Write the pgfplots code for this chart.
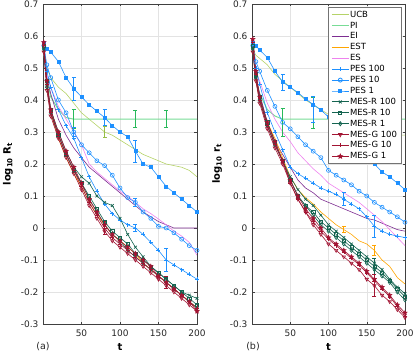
\documentclass[border=0pt]{standalone}
\usepackage{fontspec}
\setmainfont{DejaVu Sans}
\usepackage{pgfplots}
\usepackage{pgfplotstable}
\pgfplotsset{compat=1.18}

\definecolor{cucb}{RGB}{181,211,104}
\definecolor{cucbbar}{RGB}{150,190,70}
\definecolor{cpi}{RGB}{120,220,150}
\definecolor{cpibar}{RGB}{40,185,90}
\definecolor{cei}{RGB}{125,45,145}
\definecolor{cest}{RGB}{255,165,0}
\definecolor{ces}{RGB}{238,130,238}
\definecolor{cpes}{RGB}{30,144,255}
\definecolor{cmesr}{RGB}{20,100,80}
\definecolor{cmesg}{RGB}{162,20,50}

% filled five point star
\pgfdeclareplotmark{fstar}{%
  \pgfpathmoveto{\pgfpointpolar{90}{\pgfplotmarksize}}%
  \pgfpathlineto{\pgfpointpolar{126}{0.45\pgfplotmarksize}}%
  \pgfpathlineto{\pgfpointpolar{162}{\pgfplotmarksize}}%
  \pgfpathlineto{\pgfpointpolar{198}{0.45\pgfplotmarksize}}%
  \pgfpathlineto{\pgfpointpolar{234}{\pgfplotmarksize}}%
  \pgfpathlineto{\pgfpointpolar{270}{0.45\pgfplotmarksize}}%
  \pgfpathlineto{\pgfpointpolar{306}{\pgfplotmarksize}}%
  \pgfpathlineto{\pgfpointpolar{342}{0.45\pgfplotmarksize}}%
  \pgfpathlineto{\pgfpointpolar{18}{\pgfplotmarksize}}%
  \pgfpathlineto{\pgfpointpolar{54}{0.45\pgfplotmarksize}}%
  \pgfpathclose\pgfusepathqfillstroke}

% panel (a): log10 R_t
\pgfplotstableread{
t   ucb   pi    ei     est    es     p100   p10    p1     r100   r10    r1     g100   g10    g1
1   0.55  0.55  0.55   0.56   0.55   0.57   0.57   0.58   0.56   0.57   0.56   0.55   0.57   0.58
5   0.50  0.47  0.47   0.44   0.48   0.49   0.51   0.56   0.45   0.46   0.44   0.43   0.45   0.46
10  0.47  0.41  0.42   0.36   0.44   0.44   0.47   0.55   0.37   0.37   0.36   0.35   0.36   0.37
20  0.44  0.37  0.34   0.28   0.38   0.37   0.40   0.52   0.30   0.29   0.29   0.28   0.29   0.30
30  0.42  0.345 0.29   0.22   0.34   0.32   0.36   0.47   0.24   0.23   0.23   0.22   0.23   0.24
40  0.39  0.34  0.25   0.17   0.30   0.28   0.30   0.435  0.19   0.18   0.18   0.17   0.18   0.19
50  0.36  0.34  0.22   0.13   0.26   0.22   0.26   0.41   0.16   0.14   0.14   0.12   0.13   0.14
60  0.34  0.34  0.19   0.08   0.20   0.16   0.235  0.385  0.14   0.10   0.09   0.07   0.08   0.09
70  0.32  0.34  0.17   0.04   0.175  0.115  0.21   0.365  0.10   0.06   0.05   0.03   0.04   0.05
80  0.30  0.34  0.15   0.01   0.155  0.075  0.195  0.345  0.08   0.02   0.01   -0.01  0.00   0.01
90  0.29  0.34  0.13   -0.02  0.135  0.045  0.165  0.32   0.07   -0.01  -0.02  -0.04  -0.03  -0.02
100 0.275 0.34  0.11   -0.04  0.115  0.025  0.125  0.30   0.03   -0.03  -0.04  -0.06  -0.05  -0.04
110 0.26  0.34  0.09   -0.06  0.10   0.01   0.095  0.285  -0.02  -0.05  -0.07  -0.08  -0.07  -0.06
120 0.245 0.34  0.07   -0.08  0.08   0.0    0.08   0.24   -0.06  -0.08  -0.09  -0.10  -0.09  -0.08
130 0.23  0.34  0.05   -0.11  0.06   -0.02  0.05   0.20   -0.09  -0.10  -0.11  -0.12  -0.11  -0.10
140 0.22  0.34  0.035  -0.13  0.045  -0.045 0.03   0.19   -0.12  -0.12  -0.13  -0.14  -0.13  -0.12
150 0.21  0.34  0.02   -0.15  0.028  -0.07  0.005  0.16   -0.14  -0.14  -0.15  -0.16  -0.15  -0.15
160 0.20  0.34  0.01   -0.17  0.01   -0.10  0.0    0.13   -0.16  -0.16  -0.17  -0.18  -0.17  -0.17
170 0.195 0.34  0.0    -0.19  -0.01  -0.115 -0.015 0.11   -0.18  -0.18  -0.19  -0.20  -0.19  -0.19
180 0.19  0.34  0.0    -0.21  -0.025 -0.13  -0.035 0.09   -0.20  -0.20  -0.21  -0.22  -0.21  -0.21
190 0.18  0.34  0.0    -0.23  -0.045 -0.145 -0.055 0.07   -0.21  -0.22  -0.23  -0.24  -0.23  -0.23
200 0.16  0.34  0.0    -0.25  -0.085 -0.16  -0.07  0.05   -0.22  -0.24  -0.25  -0.26  -0.25  -0.26
}\dataA

% panel (b): log10 r_t
\pgfplotstableread{
t   ucb   pi    ei     est    es     p100   p10    p1     r100   r10    r1     g100   g10    g1
1   0.56  0.56  0.56   0.56   0.56   0.57   0.57   0.58   0.56   0.57   0.56   0.55   0.58   0.59
5   0.54  0.47  0.47   0.46   0.49   0.50   0.52   0.57   0.47   0.48   0.47   0.46   0.48   0.49
10  0.53  0.42  0.42   0.40   0.46   0.45   0.49   0.556  0.40   0.41   0.40   0.39   0.40   0.41
20  0.51  0.37  0.33   0.33   0.39   0.36   0.43   0.533  0.32   0.33   0.32   0.31   0.32   0.33
30  0.48  0.35  0.27   0.28   0.34   0.30   0.38   0.49   0.26   0.27   0.26   0.25   0.26   0.27
40  0.46  0.34  0.23   0.22   0.30   0.245  0.33   0.456  0.21   0.21   0.21   0.20   0.21   0.21
50  0.44  0.34  0.19   0.16   0.27   0.19   0.31   0.44   0.16   0.15   0.15   0.14   0.14   0.15
60  0.42  0.34  0.15   0.12   0.235  0.17   0.285  0.423  0.12   0.10   0.10   0.09   0.09   0.10
70  0.40  0.34  0.125  0.095  0.21   0.155  0.26   0.403  0.09   0.07   0.07   0.05   0.05   0.06
80  0.385 0.34  0.11   0.075  0.185  0.14   0.24   0.386  0.07   0.05   0.04   0.01   0.02   0.03
90  0.37  0.34  0.09   0.05   0.165  0.125  0.22   0.369  0.04   0.02   0.01   -0.02  -0.01  0.00
100 0.355 0.34  0.08   0.03   0.14   0.115  0.18   0.347  0.01   0.00   -0.01  -0.05  -0.035 -0.03
110 0.345 0.34  0.07   0.01   0.125  0.105  0.165  0.33   -0.01  -0.02  -0.03  -0.07  -0.055 -0.05
120 0.335 0.34  0.06   -0.005 0.11   0.09   0.15   0.31   -0.03  -0.04  -0.05  -0.09  -0.075 -0.07
130 0.325 0.34  0.05   -0.02  0.095  0.075  0.135  0.29   -0.05  -0.06  -0.07  -0.11  -0.095 -0.09
140 0.32  0.34  0.04   -0.04  0.08   0.06   0.115  0.26   -0.07  -0.08  -0.09  -0.13  -0.115 -0.11
150 0.31  0.34  0.03   -0.05  0.06   0.035  0.10   0.23   -0.09  -0.10  -0.11  -0.16  -0.14  -0.135
160 0.305 0.34  0.025  -0.07  0.04   0.005  0.08   0.20   -0.11  -0.12  -0.13  -0.18  -0.165 -0.16
170 0.30  0.34  0.015  -0.10  0.02   -0.01  0.065  0.175  -0.13  -0.14  -0.15  -0.21  -0.19  -0.185
180 0.295 0.34  0.005  -0.12  -0.005 -0.02  0.05   0.16   -0.16  -0.165 -0.17  -0.23  -0.215 -0.21
190 0.29  0.34  -0.005 -0.155 -0.03  -0.025 0.035  0.14   -0.185 -0.19  -0.20  -0.255 -0.245 -0.24
200 0.29  0.34  -0.01  -0.175 -0.055 -0.03  0.018  0.12   -0.205 -0.215 -0.225 -0.28  -0.275 -0.265
}\dataB

\pgfplotsset{
  panel/.style={
    scale only axis, width=154pt, height=320pt,
    xmin=0, xmax=200, ymin=-0.3, ymax=0.7,
    xtick={50,100,150,200},
    ytick={-0.3,-0.2,-0.1,0,0.1,0.2,0.3,0.4,0.5,0.6,0.7},
    yticklabels={-0.3,-0.2,-0.1,0,0.1,0.2,0.3,0.4,0.5,0.6,0.7},
    /pgf/number format/assume math mode=true,
    grid=major, grid style={gray!22, line width=0.4pt},
    axis line style={black!75, line width=0.5pt},
    tick style={black!75, line width=0.4pt}, tick align=inside, major tick length=2.5pt,
    ticklabel style={font=\fontsize{9}{10}\selectfont, text=black!85},
    xticklabel style={yshift=-2pt},
    yticklabel style={xshift=-1pt},
    xlabel={\textbf{t}},
    xlabel style={at={(axis description cs:0.5,-0.072)}, anchor=center, font=\fontsize{10}{11}\selectfont},
    ylabel style={at={(axis description cs:-0.228,0.5)}, anchor=center, font=\fontsize{10}{11}\selectfont},
    every axis plot/.append style={line width=0.6pt},
    mark size=2pt,
  },
  sucb/.style={cucb, mark=none},
  spi/.style={cpi, mark=none, line width=1pt},
  sei/.style={cei, mark=none},
  sest/.style={cest, mark=none},
  ses/.style={ces, mark=none},
  sp100/.style={cpes, mark=+, mark options={solid}},
  sp10/.style={cpes, mark=o, mark options={solid}},
  sp1/.style={cpes, mark=square*, mark size=1.5pt, mark options={solid}},
  sr100/.style={cmesr, mark=x, mark options={solid}},
  sr10/.style={cmesr, mark=square, mark size=1.6pt, mark options={solid}},
  sr1/.style={cmesr, mark=diamond, mark options={solid}},
  sg100/.style={cmesg, mark=triangle, mark options={solid, rotate=180}},
  sg10/.style={cmesg, mark=+, mark options={solid}},
  sg1/.style={cmesg, mark=fstar, mark size=2.2pt, mark options={solid}},
  ebar/.style={forget plot, draw=none, mark=none,
    error bars/.cd, y dir=both, y explicit,
    error bar style={draw=#1, line width=0.7pt},
    error mark options={draw=#1, line width=0.7pt, mark size=2pt, rotate=90}},
}

\begin{document}
\begin{tikzpicture}

% ---------- (a) ----------
\begin{axis}[panel, at={(43pt,-324pt)}, anchor=south west,
  ylabel={\textbf{log\textsubscript{10} R\textsubscript{t}}}]
\addplot[sucb] table[x=t, y=ucb] {\dataA};
\addplot[spi] table[x=t, y=pi] {\dataA};
\addplot[sei] table[x=t, y=ei] {\dataA};
\addplot[sest] table[x=t, y=est] {\dataA};
\addplot[ses] table[x=t, y=es] {\dataA};
\addplot[sp100] table[x=t, y=p100] {\dataA};
\addplot[sp10] table[x=t, y=p10] {\dataA};
\addplot[sp1] table[x=t, y=p1] {\dataA};
\addplot[sr100] table[x=t, y=r100] {\dataA};
\addplot[sr10] table[x=t, y=r10] {\dataA};
\addplot[sr1] table[x=t, y=r1] {\dataA};
\addplot[sg100] table[x=t, y=g100] {\dataA};
\addplot[sg10] table[x=t, y=g10] {\dataA};
\addplot[sg1] table[x=t, y=g1] {\dataA};
% error bars
\addplot[ebar=cucbbar] coordinates {(80,0.30) +- (0,0.018)};
\addplot[ebar=cpibar] coordinates {(40,0.34) +- (0,0.03) (120,0.34) +- (0,0.027) (160,0.34) +- (0,0.027)};
\addplot[ebar=cpes] coordinates {(40,0.435) +- (0,0.035) (80,0.345) +- (0,0.025) (120,0.24) +- (0,0.035)};
\addplot[ebar=cpes] coordinates {(40,0.30) +- (0,0.015) (120,0.08) +- (0,0.012)};
\addplot[ebar=cpes] coordinates {(120,0.0) +- (0,0.012) (160,-0.10) +- (0,0.035)};
\addplot[ebar=cmesg] coordinates {(80,0.0) +- (0,0.02) (160,-0.17) +- (0,0.02)};
\end{axis}

% ---------- (b) ----------
\begin{axis}[panel, at={(252pt,-324pt)}, anchor=south west, width=153pt,
  ylabel={\textbf{log\textsubscript{10} r\textsubscript{t}}},
  legend cell align=left,
  legend style={at={(rel axis cs:0.974,0.99)}, anchor=north east,
    draw=black!55, line width=0.4pt, fill=white,
    font=\fontsize{8.5}{9}\selectfont, row sep=0.3pt,
    nodes={inner sep=0.8pt, text height=7pt, text depth=2pt}},
  legend image post style={line width=0.8pt}]
\addplot[sucb] table[x=t, y=ucb] {\dataB};
\addplot[spi] table[x=t, y=pi] {\dataB};
\addplot[sei] table[x=t, y=ei] {\dataB};
\addplot[sest] table[x=t, y=est] {\dataB};
\addplot[ses] table[x=t, y=es] {\dataB};
\addplot[sp100] table[x=t, y=p100] {\dataB};
\addplot[sp10] table[x=t, y=p10] {\dataB};
\addplot[sp1] table[x=t, y=p1] {\dataB};
\addplot[sr100] table[x=t, y=r100] {\dataB};
\addplot[sr10] table[x=t, y=r10] {\dataB};
\addplot[sr1] table[x=t, y=r1] {\dataB};
\addplot[sg100] table[x=t, y=g100] {\dataB};
\addplot[sg10] table[x=t, y=g10] {\dataB};
\addplot[sg1] table[x=t, y=g1] {\dataB};
\legend{UCB, PI, EI, EST, ES, PES 100, PES 10, PES 1, MES-R 100, MES-R 10, MES-R 1, MES-G 100, MES-G 10, MES-G 1}
% error bars
\addplot[ebar=cpibar] coordinates {(40,0.33) +- (0,0.043) (80,0.36) +- (0,0.048)};
\addplot[ebar=cpes] coordinates {(40,0.456) +- (0,0.025) (80,0.37) +- (0,0.04)};
\addplot[ebar=cpes] coordinates {(120,0.09) +- (0,0.02) (160,0.005) +- (0,0.035)};
\addplot[ebar=cest] coordinates {(120,-0.005) +- (0,0.01) (160,-0.07) +- (0,0.015)};
\addplot[ebar=cmesr] coordinates {(160,-0.12) +- (0,0.025)};
\addplot[ebar=cmesg] coordinates {(160,-0.18) +- (0,0.035)};
\end{axis}

\node[font=\fontsize{9.5}{10}\selectfont, text=black!85] at (43pt,-347pt) {(a)};
\node[font=\fontsize{9.5}{10}\selectfont, text=black!85] at (253pt,-347pt) {(b)};

\pgfresetboundingbox
\path[use as bounding box] (0pt,0pt) rectangle (415pt,-353pt);
\end{tikzpicture}
\end{document}
